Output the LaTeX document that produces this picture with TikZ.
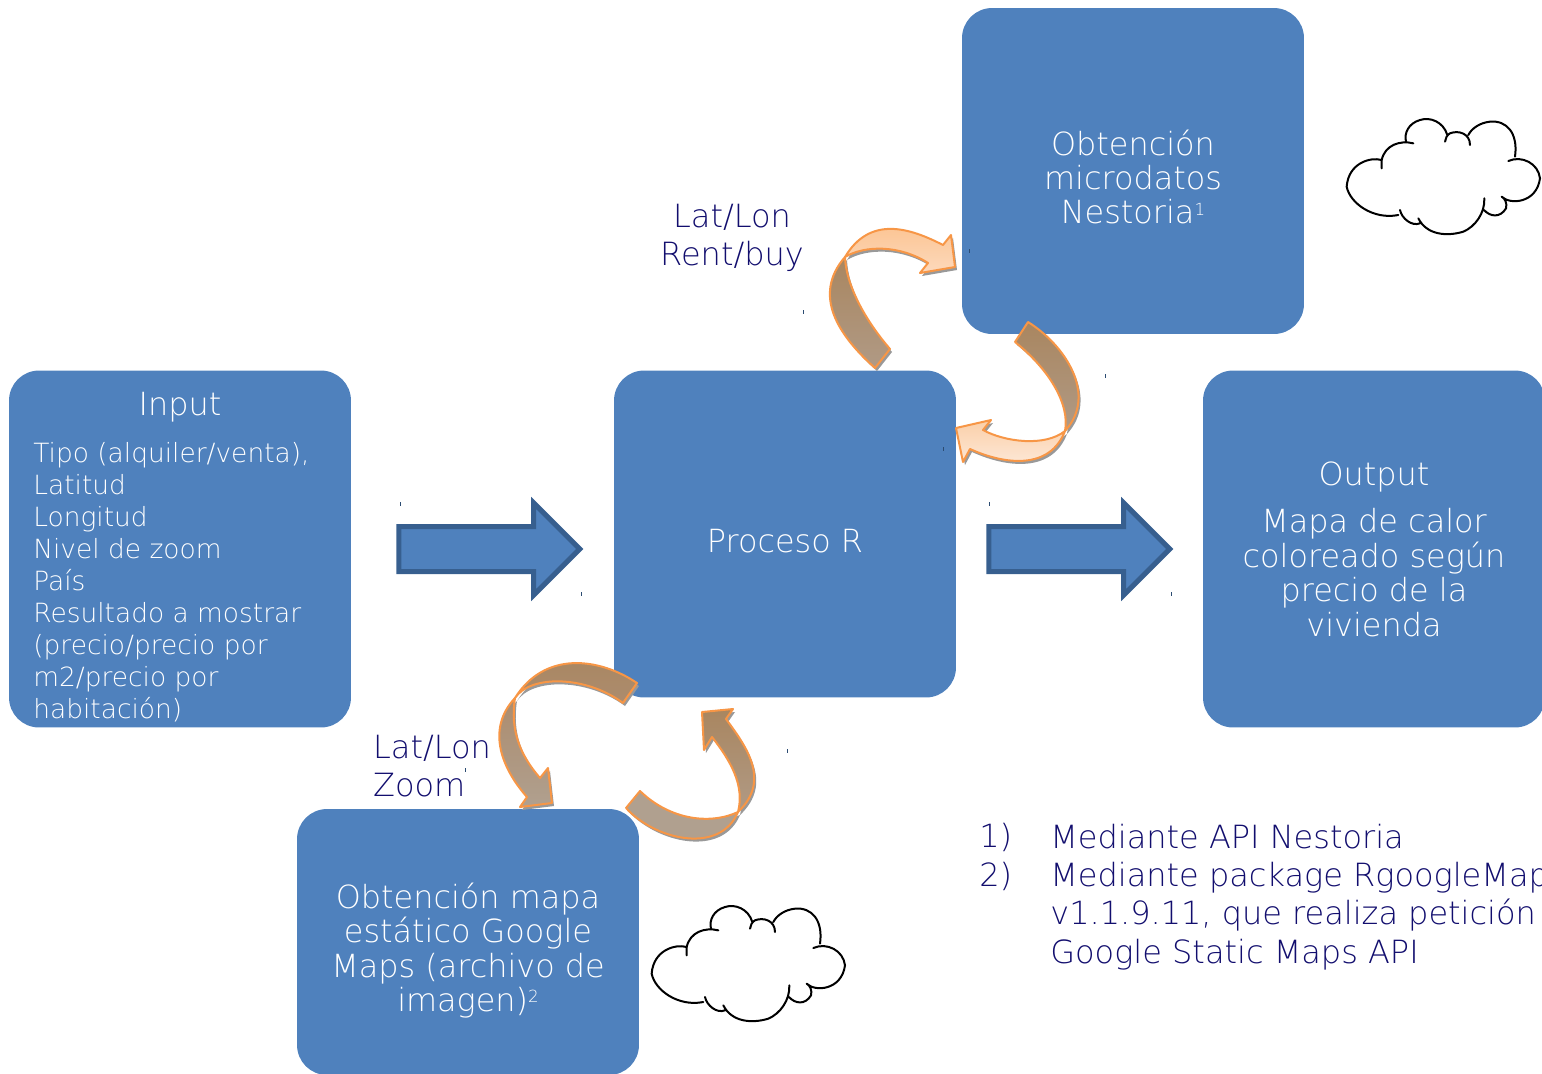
\documentclass[tikz,border=0pt]{standalone}
\usepackage{fontspec}
\setmainfont{DejaVu Sans ExtraLight}
\usetikzlibrary{shapes.arrows}

\definecolor{boxblue}{HTML}{4F81BD}
\definecolor{boxedge}{HTML}{375F8F}
\definecolor{twistedge}{HTML}{F79646}
\definecolor{labelblue}{HTML}{120E6E}
\definecolor{browndark}{HTML}{A98660}
\definecolor{brownmid}{HTML}{AC8C6E}
\definecolor{brownpale}{HTML}{B09A85}
\definecolor{tan}{HTML}{B0A08F}
\definecolor{peachdark}{HTML}{FBC08A}
\definecolor{peach}{HTML}{FDD9BC}
\definecolor{paledark}{HTML}{FBCFA8}
\definecolor{pale}{HTML}{FDEBDD}

% back and front part of a curved arrow, with its grey shadow
\newcommand{\twist}[6]{
  \fill [twistshadow] #1 -- cycle;
  \fill [twistshadow] #4 -- cycle;
  \shadedraw [twistpart, top color=#2, bottom color=#3] #1 -- cycle;
  \shadedraw [twistpart, top color=#5, bottom color=#6] #4 -- cycle;
}
\newcommand{\notemark}[1]{\raisebox{5pt}{\fontsize{9.5}{10}\selectfont #1}}

\begin{document}
\begin{tikzpicture}[
  x=0.02cm,
  y=-0.02cm,
  flowbox/.style={fill=boxblue, rounded corners=0.6cm, minimum width=6.84cm, inner sep=0pt},
  boxtext/.style={text=white, align=center, inner sep=0pt, font=\fontsize{18.15}{19.6}\selectfont},
  listtext/.style={text=white, align=left, inner sep=0pt, font=\fontsize{15.05}{18.2}\selectfont},
  sidetext/.style={text=labelblue, align=left, inner sep=0pt, font=\fontsize{18.2}{21.8}\selectfont},
  bigarrow/.style={shape=single arrow, draw=boxedge, fill=boxblue, line width=0.1cm,
    minimum height=3.62cm, single arrow head extend=0.47cm,
    single arrow head indent=0cm, inner xsep=0pt, inner ysep=0.40cm, outer sep=0pt},
  twistpart/.style={draw=twistedge, line width=0.04cm, line join=round},
  twistshadow/.style={fill=black!40, shift={(2,3)}},
  speck/.style={draw=boxedge!80!black, line width=0.02cm},
  cloud/.pic={
    \draw [black, line width=0.04cm, scale=1/3, line cap=round]
      (155,205) .. controls (155,190) and (155,185) .. (155,180)
      .. controls (120,170) and (55,190) .. (50,260)
      .. controls (60,310) and (130,360) .. (205,345);
    \draw [black, line width=0.04cm, scale=1/3, line cap=round]
      (210,330) .. controls (215,355) and (245,380) .. (270,370)
      (265,355) .. controls (290,405) and (350,410) .. (400,395)
      .. controls (435,380) and (465,340) .. (463,295)
      (462,330) .. controls (480,350) and (510,355) .. (528,325)
      .. controls (532,310) and (525,295) .. (515,290)
      (515,290) .. controls (540,315) and (620,310) .. (630,235)
      .. controls (625,190) and (575,165) .. (535,183)
      (555,170) .. controls (565,100) and (530,60) .. (480,65)
      .. controls (450,68) and (425,85) .. (415,105)
      (420,135) .. controls (420,100) and (385,90) .. (360,100)
      .. controls (350,105) and (347,115) .. (345,125)
      (352,105) .. controls (340,65) and (300,50) .. (270,60)
      .. controls (235,70) and (222,100) .. (228,125)
      (250,130) .. controls (210,120) and (165,135) .. (155,180);
  },
]
\useasboundingbox (0,0) rectangle (1542,1073);

\node [flowbox, minimum height=6.52cm] (nestoria) at (1133,171) {};
\node [flowbox, minimum height=7.14cm] (input) at (180,549) {};
\node [flowbox, minimum height=6.54cm] (proceso) at (785,534) {};
\node [flowbox, minimum height=7.14cm] (output) at (1374,549) {};
\node [flowbox, minimum height=5.32cm] (google) at (468,942) {};

\node [boxtext] (nestoriatext) at ([yshift=-0.12cm]nestoria) {Obtención\\microdatos\\Nestoria\notemark{1}};
\node [boxtext] (inputtitle) at (180,407) {Input};
\node [listtext, anchor=north west] (inputlist) at (33,442) {Tipo (alquiler/venta),\\Latitud\\Longitud\\Nivel de zoom\\País\\Resultado a mostrar\\(precio/precio por\\m2/precio por\\habitación)};
\node [boxtext] (procesotext) at ([yshift=-0.14cm]proceso) {Proceso R};
\node [boxtext] (outputtext) at (output) {Output\\[7.6pt]Mapa de calor\\coloreado según\\precio de la\\vivienda};
\node [boxtext] (googletext) at ([yshift=-0.17cm]google) {Obtención mapa\\estático Google\\Maps (archivo de\\imagen)\notemark{2}};

\node [bigarrow] (inputarrow) at (478,549) {};
\node [bigarrow] (outputarrow) at (1068,549) {};

% up to the Nestoria box
\twist{(875,368) .. controls (838,335) and (812,295) .. (845,257) .. controls (846,285) and (865,320) .. (890,349)}{browndark}{brownpale}
      {(845,257) .. controls (870,215) and (910,228) .. (943,245) -- (951,235) -- (955,267) -- (920,273) -- (928,263) .. controls (900,245) and (865,245) .. (845,257)}{peachdark}{peach}
% back from the Nestoria box
\twist{(1028,322) .. controls (1065,345) and (1098,395) .. (1065,431) .. controls (1070,405) and (1050,370) .. (1015,342)}{browndark}{brownpale}
      {(1065,431) .. controls (1050,470) and (1005,465) .. (970,449) -- (963,462) -- (956,428) -- (991,420) -- (983,430) .. controls (1005,442) and (1045,447) .. (1065,431)}{paledark}{pale}
% down to the Google box
\twist{(637,683) .. controls (600,658) and (545,650) .. (515,698) .. controls (530,675) and (585,675) .. (623,703)}{browndark}{brownmid}
      {(515,698) .. controls (485,730) and (503,770) .. (527,797) -- (520,807) -- (552,803) -- (548,768) -- (540,778) .. controls (520,755) and (510,730) .. (515,698)}{brownmid}{tan}
% back from the Google box
\twist{(626,808) .. controls (655,840) and (720,855) .. (738,812) .. controls (710,825) and (670,820) .. (640,791)}{tan}{tan}
      {(738,812) .. controls (772,780) and (745,745) .. (726,719) -- (733,709) -- (702,712) -- (704,750) -- (712,737) .. controls (730,760) and (745,785) .. (738,812)}{browndark}{brownpale}

\foreach \x/\y in {400/504, 581/594, 989/504, 1171/594, 803/312, 1105/376, 943/449, 969/251, 787/751, 465/770}
  \draw [speck] (\x,\y-2) -- (\x,\y+2);

\pic at (1330,100) {cloud};
\pic at (635,887) {cloud};

\node [sidetext, align=center] (rentlabel) at (732,238) {Lat/Lon\\Rent/buy};
\node [sidetext] (zoomlabel) at (432,766) {Lat/Lon\\Zoom};
\node [sidetext, anchor=west] (noteone) at (979,837) {1)};
\node [sidetext, anchor=west] (noteonetext) at (1050,837) {Mediante API Nestoria};
\node [sidetext, anchor=west] (notetwo) at (979,876) {2)};
\node [sidetext, anchor=north west] (notetwotext) at (1050,862) {Mediante package RgoogleMaps\\v1.1.9.11, que realiza petición\\Google Static Maps API};

\end{tikzpicture}
\end{document}
